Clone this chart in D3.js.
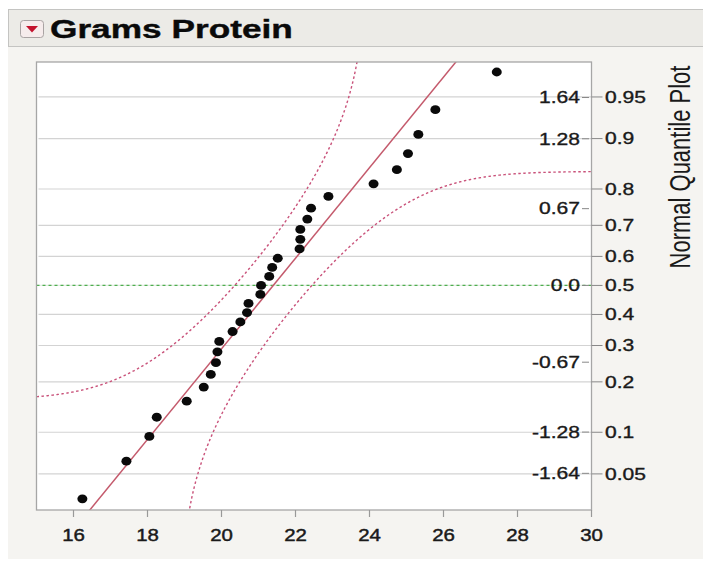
<!DOCTYPE html>
<html><head><meta charset="utf-8">
<script src="https://cdn.jsdelivr.net/npm/d3@7"></script>
<style>body{margin:0;background:#fff}svg{display:block}text{font-family:"Liberation Sans",Arial,Helvetica,sans-serif}</style>
</head><body><svg id="c" width="703" height="563"></svg>
<script>
// ---- data ----
const title = "Grams Protein";
const yAxisTitle = "Normal Quantile Plot";
const protein = [16.24,17.43,18.05,18.25,19.06,19.52,19.71,19.85,19.89,19.94,
                 20.30,20.51,20.69,20.73,21.05,21.07,21.29,21.37,21.52,22.11,
                 22.13,22.13,22.32,22.42,22.89,24.11,24.74,25.04,25.32,25.78,27.44];
const xTicks = [16,18,20,22,24,26,28,30];
const probTicks = [0.05,0.1,0.2,0.3,0.4,0.5,0.6,0.7,0.8,0.9,0.95];
const probLabels = ["0.05","0.1","0.2","0.3","0.4","0.5","0.6","0.7","0.8","0.9","0.95"];
const zTicks = [-1.64,-1.28,-0.67,0,0.67,1.28,1.64];
const zLabels = ["-1.64","-1.28","-0.67","0.0","0.67","1.28","1.64"];
const fitMean = 21.4, fitSd = 2.53, bandD = 0.16;

// ---- normal helpers ----
function normInv(p){
 const a=[-3.969683028665376e+01,2.209460984245205e+02,-2.759285104469687e+02,1.383577518672690e+02,-3.066479806614716e+01,2.506628277459239e+00];
 const b=[-5.447609879822406e+01,1.615858368580409e+02,-1.556989798598866e+02,6.680131188771972e+01,-1.328068155288572e+01];
 const c=[-7.784894002430293e-03,-3.223964580411365e-01,-2.400758277161838e+00,-2.549732539343734e+00,4.374664141464968e+00,2.938163982698783e+00];
 const d=[7.784695709041462e-03,3.224671290700398e-01,2.445134137142996e+00,3.754408661907416e+00];
 const pl=0.02425, ph=1-pl; let q,r;
 if(p<pl){q=Math.sqrt(-2*Math.log(p));return (((((c[0]*q+c[1])*q+c[2])*q+c[3])*q+c[4])*q+c[5])/((((d[0]*q+d[1])*q+d[2])*q+d[3])*q+1);}
 if(p<=ph){q=p-0.5;r=q*q;return (((((a[0]*r+a[1])*r+a[2])*r+a[3])*r+a[4])*r+a[5])*q/(((((b[0]*r+b[1])*r+b[2])*r+b[3])*r+b[4])*r+1);}
 q=Math.sqrt(-2*Math.log(1-p));return -(((((c[0]*q+c[1])*q+c[2])*q+c[3])*q+c[4])*q+c[5])/((((d[0]*q+d[1])*q+d[2])*q+d[3])*q+1);
}
function normCdf(x){const t=1/(1+0.2316419*Math.abs(x));const dd=0.3989423*Math.exp(-x*x/2);
 const p=dd*t*(0.3193815+t*(-0.3565638+t*(1.781478+t*(-1.821256+t*1.330274))));return x>0?1-p:p;}

// ---- layout ----
const svg = d3.select("#c");
const L=36.5, R=591.5, T=62, B=510;
const x = d3.scaleLinear().domain([15,30]).range([L,R]);
const y = d3.scaleLinear().domain([-1.96,1.95]).range([B,T]);
const SX = 1.3;
const TXT = "#1a1a1a";

svg.append("rect").attr("x",8).attr("y",9).attr("width",700).attr("height",550).attr("fill","#f5f4f1");
svg.append("rect").attr("x",8.5).attr("y",9.5).attr("width",700).attr("height",37).attr("fill","#ecebe7").attr("stroke","#c4c4c2");
svg.append("rect").attr("x",20.5).attr("y",20.5).attr("width",23).attr("height",17).attr("rx",3)
  .attr("fill","#f6ecec").attr("stroke","#a9a3a3");
svg.append("path").attr("d","M26,26 L38,26 L32,32.5 Z").attr("fill","#c4122e");
svg.append("text").attr("transform",`translate(50,38) scale(1.33,1)`).attr("font-size",26.5)
  .attr("font-weight","bold").attr("fill","#0a0a0a").attr("stroke","#0a0a0a").attr("stroke-width",0.4).text(title);

// plot area
svg.append("rect").attr("x",L).attr("y",T).attr("width",R-L).attr("height",B-T).attr("fill","#fff");
svg.append("clipPath").attr("id","clip").append("rect").attr("x",L).attr("y",T).attr("width",R-L).attr("height",B-T);

// gridlines at probabilities
svg.append("g").selectAll("line").data(probTicks.filter(p=>p!==0.5)).join("line")
  .attr("x1",L+2).attr("x2",R).attr("y1",d=>y(normInv(d))).attr("y2",d=>y(normInv(d)))
  .attr("stroke","#d3d3d3").attr("stroke-width",1.2);

// z = 0 reference line (green)
svg.append("line").attr("x1",L).attr("x2",R).attr("y1",y(0)).attr("y2",y(0))
  .attr("stroke","#e3ece3").attr("stroke-width",1.2);
svg.append("line").attr("x1",L).attr("x2",R).attr("y1",y(0)).attr("y2",y(0))
  .attr("stroke","#4fae4f").attr("stroke-width",1.3).attr("stroke-dasharray","3,3");

const pg = svg.append("g").attr("clip-path","url(#clip)");
// confidence bands
const xs = d3.range(15,30.001,0.01);
const bandLine = d3.line().defined(d=>d[1]!==null && isFinite(d[1])).x(d=>x(d[0])).y(d=>y(d[1]));
const upper = xs.map(v=>{const p=normCdf((v-fitMean)/fitSd)+bandD;return [v,(p<1)?Math.max(-4,Math.min(4,normInv(p))):null];});
const lower = xs.map(v=>{const p=normCdf((v-fitMean)/fitSd)-bandD;return [v,(p>0)?Math.max(-4,Math.min(4,normInv(p))):null];});
[upper,lower].forEach(b=>pg.append("path").attr("d",bandLine(b)).attr("fill","none")
  .attr("stroke","#c9527a").attr("stroke-width",1.4).attr("stroke-dasharray","2.5,2.5"));
// fitted line
pg.append("line").attr("x1",x(fitMean+fitSd*-2.2)).attr("y1",y(-2.2))
  .attr("x2",x(fitMean+fitSd*2.2)).attr("y2",y(2.2)).attr("stroke","#c45a6c").attr("stroke-width",1.5);

// points
const n = protein.length;
pg.append("g").selectAll("ellipse").data(protein).join("ellipse")
  .attr("cx",d=>x(d)).attr("cy",(d,i)=>y(normInv((i+1)/(n+1)))).attr("rx",5).attr("ry",4.4).attr("fill","#0a0a0a");

// frame
svg.append("rect").attr("x",L).attr("y",T).attr("width",R-L).attr("height",B-T).attr("fill","none").attr("stroke","#a6a6a6").attr("stroke-width",1.3);

// x axis
const xa = svg.append("g");
xa.selectAll("line").data(xTicks).join("line").attr("x1",d=>x(d)).attr("x2",d=>x(d)).attr("y1",B).attr("y2",B+7).attr("stroke","#999").attr("stroke-width",1.2);
xa.selectAll("text").data(xTicks).join("text").attr("transform",d=>`translate(${x(d)},540.5) scale(1.2,1)`)
  .attr("text-anchor","middle").attr("font-size",17).attr("fill",TXT).attr("stroke",TXT).attr("stroke-width",0.45).text(d=>d);

// inner z axis
const za = svg.append("g");
za.selectAll("line").data(zTicks).join("line").attr("x1",582).attr("x2",589).attr("y1",d=>y(d)).attr("y2",d=>y(d)).attr("stroke","#888");
za.selectAll("text").data(zTicks).join("text").attr("transform",d=>`translate(580,${y(d)}) scale(${SX},1)`)
  .attr("text-anchor","end").attr("dy","0.36em").attr("font-size",16.2).attr("fill",TXT).attr("stroke",TXT).attr("stroke-width",0.35).text((d,i)=>zLabels[i]);

// probability axis
const pa = svg.append("g");
pa.selectAll("line").data(probTicks).join("line").attr("x1",R).attr("x2",R+11).attr("y1",d=>y(normInv(d))).attr("y2",d=>y(normInv(d))).attr("stroke","#888");
pa.selectAll("text").data(probTicks).join("text").attr("transform",d=>`translate(605,${y(normInv(d))}) scale(${SX},1)`)
  .attr("dy","0.36em").attr("font-size",16.2).attr("fill",TXT).attr("stroke",TXT).attr("stroke-width",0.35).text((d,i)=>probLabels[i]);

svg.append("text").attr("transform",`translate(690,167) scale(1.32,1) rotate(-90)`).attr("text-anchor","middle")
  .attr("font-size",22).attr("fill",TXT).text(yAxisTitle);
</script></body></html>
